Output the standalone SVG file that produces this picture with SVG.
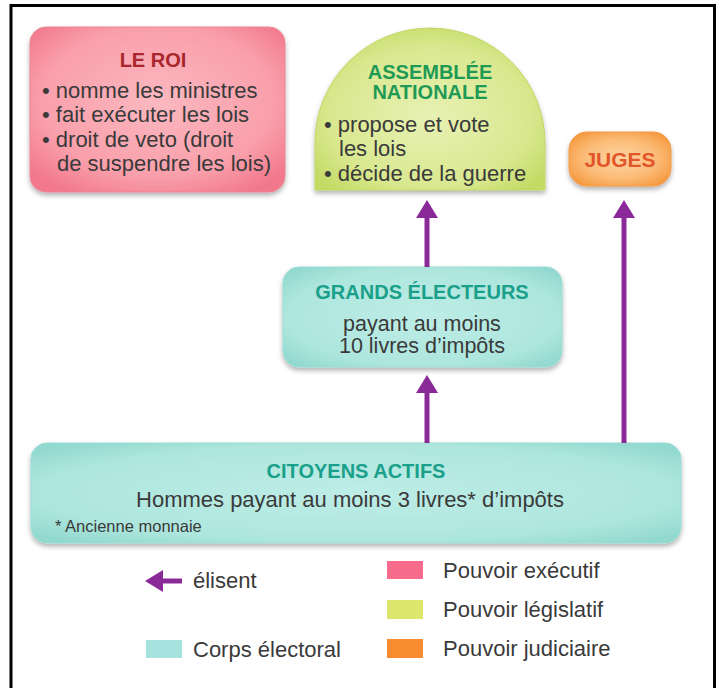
<svg xmlns="http://www.w3.org/2000/svg" width="721" height="688" viewBox="0 0 721 688">
  <style>
    text { font-family: "Liberation Sans", Arial, sans-serif; }
    .body { font-size: 22px; fill: #3a3a3a; }
    .title { font-size: 20px; font-weight: bold; }
    .mid { text-anchor: middle; }
    .leg { font-size: 22px; fill: #3a3a3a; }
    .conn { stroke: #8a2a98; stroke-width: 5; fill: none; }
  </style>
  <defs>
    <filter id="sh" x="-10%" y="-10%" width="120%" height="130%">
      <feDropShadow dx="0" dy="3" stdDeviation="2.5" flood-color="#000" flood-opacity="0.3"/>
    </filter>
    <radialGradient id="gPink" cx="50%" cy="45%" r="65%">
      <stop offset="0" stop-color="#fbb8c0"/>
      <stop offset="0.7" stop-color="#f99fab"/>
      <stop offset="1" stop-color="#f2798c"/>
    </radialGradient>
    <radialGradient id="gGreen" cx="50%" cy="55%" r="62%">
      <stop offset="0" stop-color="#e8f1b4"/>
      <stop offset="0.7" stop-color="#d9e88f"/>
      <stop offset="1" stop-color="#c3da63"/>
    </radialGradient>
    <radialGradient id="gOrange" cx="50%" cy="50%" r="60%">
      <stop offset="0" stop-color="#fdd5a3"/>
      <stop offset="0.6" stop-color="#fbbc78"/>
      <stop offset="1" stop-color="#f59a40"/>
    </radialGradient>
    <radialGradient id="gTeal" cx="50%" cy="50%" r="65%">
      <stop offset="0" stop-color="#bdede6"/>
      <stop offset="0.75" stop-color="#ade6de"/>
      <stop offset="1" stop-color="#92d9cf"/>
    </radialGradient>
    <marker id="ah" markerUnits="userSpaceOnUse" markerWidth="18" markerHeight="22" refX="0" refY="11" orient="auto" viewBox="0 0 18 22">
      <path d="M0,0 L18,11 L0,22 Z" fill="#8a2a98"/>
    </marker>
  </defs>

  <rect width="721" height="688" fill="#ffffff"/>
  <path d="M11,688 V5.5 H714.5 V688" fill="none" stroke="#000" stroke-width="3"/>

  <g id="roi">
    <rect x="30" y="27" width="255" height="165" rx="16" fill="url(#gPink)" stroke="#ee8396" stroke-width="1" filter="url(#sh)"/>
    <text class="title mid" x="153" y="67" fill="#a8262c">LE ROI</text>
    <text class="body" x="42" y="98">• nomme les ministres</text>
    <text class="body" x="42" y="122">• fait exécuter les lois</text>
    <text class="body" x="42" y="147">• droit de veto (droit</text>
    <text class="body" x="57" y="171">de suspendre les lois)</text>
  </g>

  <g id="assemblee">
    <path d="M315,190 L315,143 A115,115 0 0 1 545,143 L545,190 Z" fill="url(#gGreen)" stroke="#c2d862" stroke-width="1" filter="url(#sh)"/>
    <text class="title mid" x="430" y="79" fill="#1f9a55">ASSEMBLÉE</text>
    <text class="title mid" x="430" y="99" fill="#1f9a55">NATIONALE</text>
    <text class="body" x="324" y="132">• propose et vote</text>
    <text class="body" x="339" y="156">les lois</text>
    <text class="body" x="324" y="181">• décide de la guerre</text>
  </g>

  <g id="juges">
    <rect x="569" y="132" width="102" height="54" rx="18" fill="url(#gOrange)" stroke="#f39a44" stroke-width="1" filter="url(#sh)"/>
    <text class="title mid" x="620" y="167" fill="#e2562a" style="font-size:21px">JUGES</text>
  </g>

  <g id="grands-electeurs">
    <rect x="283" y="267" width="279" height="100" rx="16" fill="url(#gTeal)" stroke="#9adcd3" stroke-width="1" filter="url(#sh)"/>
    <text class="title mid" x="422" y="299" fill="#1aa08a">GRANDS ÉLECTEURS</text>
    <text class="body mid" x="422" y="331" style="font-size:21.5px">payant au moins</text>
    <text class="body mid" x="422" y="353" style="font-size:21.5px">10 livres d’impôts</text>
  </g>

  <g id="citoyens">
    <rect x="31" y="443" width="650" height="100" rx="16" fill="url(#gTeal)" stroke="#9adcd3" stroke-width="1" filter="url(#sh)"/>
    <text class="title mid" x="356" y="478" fill="#1aa08a">CITOYENS ACTIFS</text>
    <text class="body mid" x="350" y="507">Hommes payant au moins 3 livres* d’impôts</text>
    <text x="55" y="532" style="font-size:16.5px" fill="#3a3a3a">* Ancienne monnaie</text>
  </g>

  <g id="connectors">
    <line class="conn" x1="427" y1="267" x2="427" y2="218" marker-end="url(#ah)"/>
    <line class="conn" x1="427" y1="443" x2="427" y2="393" marker-end="url(#ah)"/>
    <line class="conn" x1="624" y1="443" x2="624" y2="218" marker-end="url(#ah)"/>
  </g>

  <g id="legend">
    <line class="conn" x1="182" y1="581" x2="163" y2="581" marker-end="url(#ah)"/>
    <text class="leg" x="193" y="588">élisent</text>
    <rect x="146" y="640" width="36" height="18" fill="#a6e3df"/>
    <text class="leg" x="193" y="657">Corps électoral</text>
    <rect x="387" y="561" width="36" height="18" fill="#f76b8c"/>
    <text class="leg" x="443" y="578">Pouvoir exécutif</text>
    <rect x="387" y="600" width="36" height="19" fill="#dde66c"/>
    <text class="leg" x="443" y="617">Pouvoir législatif</text>
    <rect x="387" y="639" width="36" height="19" fill="#f98b30"/>
    <text class="leg" x="443" y="656">Pouvoir judiciaire</text>
  </g>
</svg>
